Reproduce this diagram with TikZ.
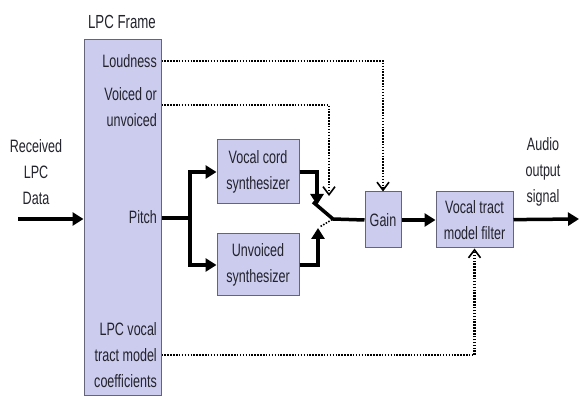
\documentclass[tikz,border=0pt]{standalone}
\usepackage{fontspec}
\setmainfont{Liberation Sans}[FakeStretch=0.7]
\usetikzlibrary{arrows.meta}
\definecolor{blockfill}{RGB}{204,204,238}
\definecolor{blockline}{RGB}{100,100,125}
\definecolor{txt}{RGB}{35,35,45}
\begin{document}
\begin{tikzpicture}[font=\fontsize{18}{26}\selectfont,
  every node/.style={text=txt},
  block/.style={draw=blockline,fill=blockfill,line width=1bp,align=center,inner sep=0pt},
  lbl/.style={align=right,anchor=east,inner sep=0pt},
  wire/.style={line width=3.5bp},
  flow/.style={line width=3.5bp,-{Triangle[length=11bp,width=13bp]}},
  ctrl/.style={line width=2.4bp,dash pattern=on 1.5bp off 1.4bp,-{Straight Barb[length=8bp,width=12bp,line width=1.6bp]}}]
  \useasboundingbox (0bp,0bp) rectangle (580bp,398bp);
  \node (frame) at (122.5bp,180bp) [block,minimum width=77bp,minimum height=356bp] {};
  \node (title) at (122bp,376bp) [font=\fontsize{19}{22}\selectfont] {LPC Frame};
  \node (loud) at (157bp,337bp) [lbl] {Loudness};
  \node (voiced) at (157bp,291bp) [lbl] {Voiced or\\unvoiced};
  \node (pitch) at (157bp,181bp) [lbl] {Pitch};
  \node (coef) at (157bp,43bp) [lbl] {LPC vocal\\tract model\\coefficients};
  \node (recv) at (36bp,226bp) [align=center] {Received\\LPC\\Data};
  \node (audio) at (543bp,226bp) [align=center] {Audio\\output\\signal};
  \node (vcs) at (258bp,226bp) [block,minimum width=82bp,minimum height=64bp] {Vocal cord\\synthesizer};
  \node (uvs) at (258bp,133bp) [block,minimum width=82bp,minimum height=62bp] {Unvoiced\\synthesizer};
  \node (gain) at (383bp,178bp) [block,minimum width=36bp,minimum height=56bp] {Gain};
  \node (vtf) at (474.5bp,178bp) [block,minimum width=77bp,minimum height=56bp] {Vocal tract\\model filter};
  \coordinate (in) at (18bp,179bp);
  \coordinate (br) at (190bp,180bp);
  \coordinate (c1) at (317bp,193bp);
  \coordinate (c2) at (318bp,170bp);
  \coordinate (lv) at (313bp,196bp);
  \coordinate (piv) at (333bp,179bp);
  \coordinate (vt) at (329bp,202bp);
  \coordinate (out) at (579bp,179bp);
  % signal path
  \draw [flow] (in) -- (in -| frame.west);
  \draw [wire] (frame.east |- br) -- (br);
  \draw [flow] (br) |- (vcs.west);
  \draw [flow] (br) |- (uvs.west);
  \draw [flow] (vcs.east) -| (c1);
  \draw [flow] (uvs.east) -| (c2);
  \draw [wire] (lv) -- (piv) -- (gain.west);
  \draw [line width=1.6bp,dash pattern=on 1.5bp off 1.5bp,shorten <=3bp] (c2) -- (piv);
  \draw [flow] (gain) -- (vtf);
  \draw [flow] (vtf) -- (out);
  % control lines
  \draw [ctrl] (frame.east |- loud.east) -| (gain.north);
  \draw [ctrl] (frame.east |- 0,293bp) -| (vt);
  \draw [ctrl] (frame.east |- coef.east) -| (vtf.south);
\end{tikzpicture}
\end{document}
